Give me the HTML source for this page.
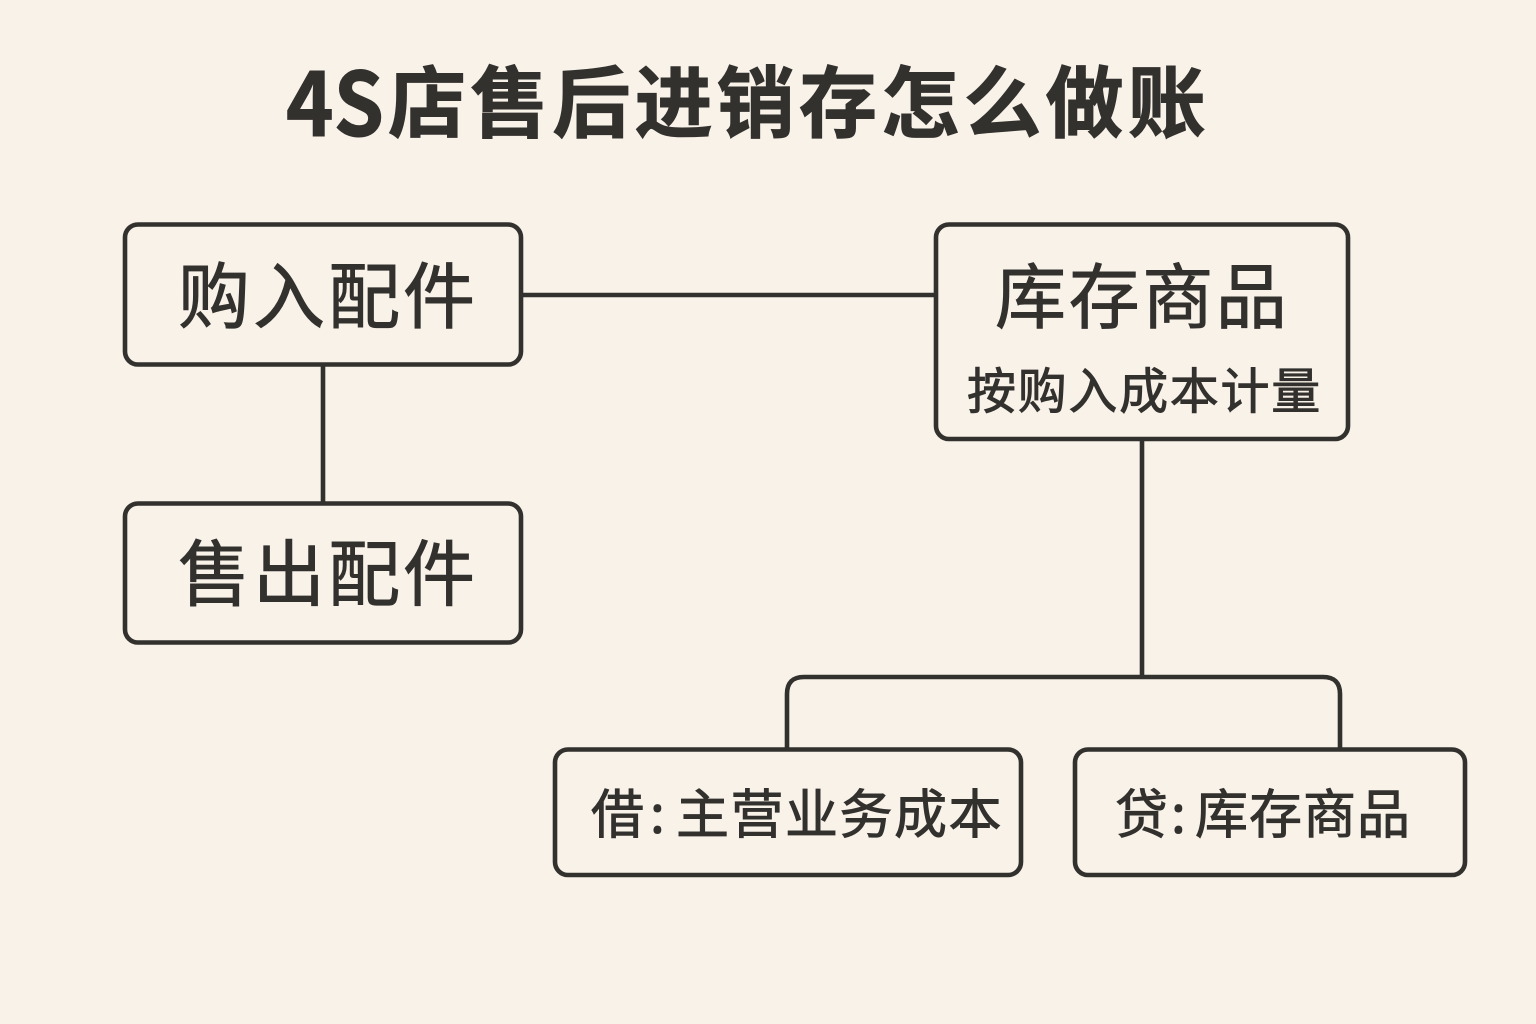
<!DOCTYPE html>
<html lang="zh">
<head>
<meta charset="utf-8">
<style>
html,body{margin:0;padding:0;background:#f8f2e9;}
svg{display:block;}
text{font-family:"Noto Sans CJK SC","Liberation Sans",sans-serif;fill:#33312e;stroke:#33312e;stroke-width:.9px;}
.t{font-weight:700;stroke-width:1px;}
.b{fill:none;stroke:#33312e;stroke-width:4.6;}
</style>
</head>
<body>
<svg width="1536" height="1024" viewBox="0 0 1536 1024" xmlns="http://www.w3.org/2000/svg">
<rect width="1536" height="1024" fill="#f8f2e9"/>
<text class="t" x="286" y="136" font-size="88" textLength="98" lengthAdjust="spacingAndGlyphs">4S</text>
<text class="t" x="388" y="131" font-size="78" letter-spacing="4.2">店售后进销存怎么做账</text>

<path class="b" d="M521 295H936M323 364V503M1142 439V677M787 750V694Q787 677 804 677H1323Q1340 677 1340 694V750"/>

<rect class="b" x="125" y="224.500" width="396" height="140" rx="13"/>
<rect class="b" x="125" y="503.500" width="396" height="139" rx="13"/>
<rect class="b" x="936" y="224.500" width="412" height="214.500" rx="13"/>
<rect class="b" x="555" y="749.500" width="466" height="125.500" rx="13"/>
<rect class="b" x="1075" y="749.500" width="390" height="125.500" rx="13"/>

<text x="178" y="322.500" font-size="72" letter-spacing="3">购入配件</text>
<text x="178" y="600" font-size="72" letter-spacing="3">售出配件</text>
<text x="995" y="322.500" font-size="71" letter-spacing="2.600">库存商品</text>
<text x="967" y="408.500" font-size="49" letter-spacing="1.700">按购入成本计量</text>
<text x="591" y="833" font-size="53">借</text>
<text x="650" y="833" font-size="53">:</text>
<text x="676" y="833" font-size="53" letter-spacing="1.500">主营业务成本</text>
<text x="1115" y="833" font-size="53">贷</text>
<text x="1171" y="833" font-size="53">:</text>
<text x="1195" y="833" font-size="53" letter-spacing="1">库存商品</text>
</svg>
</body>
</html>
